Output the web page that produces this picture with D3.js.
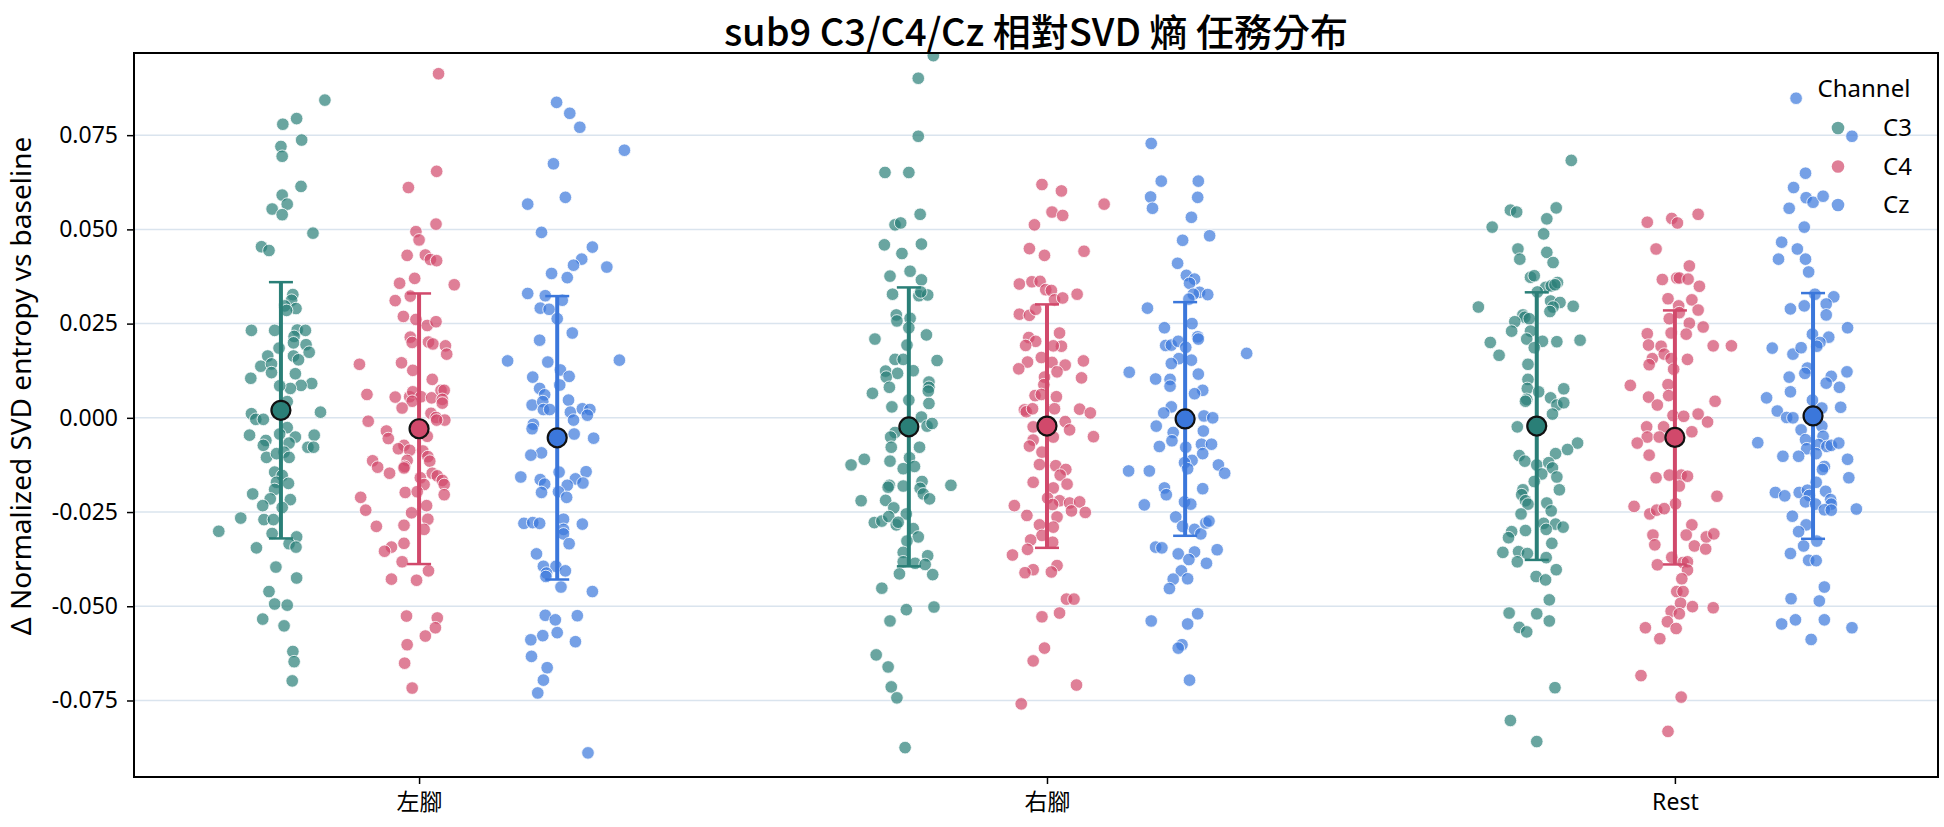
<!DOCTYPE html>
<html>
<head>
<meta charset="utf-8">
<script src="https://cdn.jsdelivr.net/npm/d3@7"></script>
<style>
  html, body { margin: 0; padding: 0; background: #fff; }
  svg { display: block; font-family: 'Noto Sans', 'Noto Sans CJK TC', sans-serif; }
</style>
</head>
<body>
<svg id="chart" width="1944" height="827"></svg>
<script>
const categories = ['左腳', '右腳', 'Rest']
const channels = ['C3', 'C4', 'Cz']
const channelColors = ['#2a7f77', '#d1496b', '#3b77db']
const yTicks = [-0.075, -0.05, -0.025, 0, 0.025, 0.05, 0.075]

// 均值与标准差 (按 类别 x 通道)
const groupMeans = [[0.0020, -0.0029, -0.0053], [-0.0024, -0.0022, -0.0003], [-0.0022, -0.0052, 0.0005]]
const groupSD = [[0.0340, 0.0359, 0.0376], [0.0370, 0.0323, 0.0310], [0.0355, 0.0337, 0.0326]]

// 每个点: [抖动(类别单位), 数值]
const leftC3 = [[0.070,0.0843],[0.003,0.0779],[0.025,0.0794],[0.033,0.0737],[0.0,0.0720],[0.002,0.0694],[0.032,0.0614],[0.002,0.0591],[0.010,0.0567],[-0.014,0.0554],[0.002,0.0539],[0.051,0.0490],[-0.031,0.0454],[-0.019,0.0444],[0.019,0.0327],[0.017,0.0312],[0.024,0.0290],[0.006,0.0297],[0.009,0.0285],[-0.047,0.0232],[-0.010,0.0232],[0.026,0.0233],[0.039,0.0232],[0.021,0.0216],[0.020,0.0199],[0.040,0.0194],[-0.003,0.0185],[0.045,0.0174],[-0.021,0.0164],[0.020,0.0164],[0.028,0.0154],[-0.032,0.0137],[-0.015,0.0143],[-0.015,0.0120],[0.023,0.0117],[-0.048,0.0105],[0.049,0.0091],[0.032,0.0086],[0.015,0.0078],[-0.002,0.0085],[-0.047,0.0011],[-0.040,-0.0004],[-0.028,-0.0004],[0.063,0.0015],[0.010,0.0043],[-0.050,-0.0046],[0.010,-0.0026],[-0.002,-0.0043],[0.023,-0.0051],[0.053,-0.0046],[-0.024,-0.0060],[-0.028,-0.0073],[0.043,-0.0078],[0.052,-0.0078],[0.013,-0.0067],[0.005,-0.0091],[-0.023,-0.0105],[-0.007,-0.0095],[0.013,-0.0105],[-0.010,-0.0144],[0.002,-0.0153],[-0.007,-0.0171],[0.012,-0.0174],[-0.010,-0.0190],[-0.045,-0.0202],[-0.017,-0.0215],[0.015,-0.0217],[-0.029,-0.0233],[0.002,-0.0238],[-0.064,-0.0266],[-0.027,-0.0270],[-0.012,-0.0270],[-0.099,-0.0301],[-0.014,-0.0307],[0.025,-0.0316],[-0.039,-0.0345],[0.013,-0.0334],[0.024,-0.0343],[-0.008,-0.0396],[0.025,-0.0425],[-0.019,-0.0461],[-0.010,-0.0494],[0.010,-0.0497],[-0.029,-0.0534],[0.005,-0.0552],[0.019,-0.0620],[0.021,-0.0647],[0.018,-0.0698]]

const leftC4 = [[0.031,0.0913],[0.028,0.0654],[-0.017,0.0611],[0.027,0.0514],[-0.005,0.0494],[0.0,0.0472],[-0.019,0.0431],[0.010,0.0432],[0.018,0.0420],[0.028,0.0417],[-0.031,0.0357],[-0.007,0.0370],[0.056,0.0353],[-0.038,0.0311],[-0.014,0.0323],[-0.025,0.0269],[-0.005,0.0261],[0.013,0.0245],[0.027,0.0255],[-0.014,0.0214],[-0.011,0.0200],[0.015,0.0201],[0.022,0.0196],[0.042,0.0191],[0.044,0.0169],[-0.095,0.0142],[-0.028,0.0146],[-0.010,0.0126],[0.021,0.0102],[-0.083,0.0062],[-0.038,0.0055],[-0.015,0.0056],[-0.010,0.0069],[0.003,0.0056],[0.020,0.0053],[0.035,0.0073],[0.040,0.0073],[0.037,0.0049],[0.037,0.0039],[-0.011,0.0044],[-0.027,0.0026],[0.019,0.0012],[-0.081,-0.0009],[0.027,0.0001],[0.041,-0.0006],[0.028,-0.0006],[-0.052,-0.0035],[-0.049,-0.0055],[0.013,-0.0049],[-0.024,-0.0073],[-0.033,-0.0082],[-0.015,-0.0086],[0.006,-0.0088],[0.014,-0.0103],[0.017,-0.0115],[-0.074,-0.0114],[-0.066,-0.0131],[-0.019,-0.0113],[-0.023,-0.0129],[-0.024,-0.0133],[-0.047,-0.0147],[0.021,-0.0147],[0.029,-0.0154],[0.037,-0.0166],[0.040,-0.0177],[0.002,-0.0159],[0.008,-0.0177],[-0.022,-0.0198],[-0.003,-0.0196],[0.040,-0.0204],[-0.093,-0.0211],[-0.085,-0.0245],[0.012,-0.0233],[-0.012,-0.0252],[0.014,-0.0269],[-0.068,-0.0288],[-0.024,-0.0285],[0.008,-0.0296],[-0.024,-0.0333],[-0.044,-0.0343],[-0.055,-0.0354],[-0.027,-0.0382],[0.015,-0.0406],[-0.044,-0.0428],[-0.004,-0.0431],[-0.020,-0.0526],[0.029,-0.0531],[0.026,-0.0557],[0.010,-0.0579],[-0.019,-0.0602],[-0.023,-0.0651],[-0.011,-0.0717]]

const leftCz = [[-0.001,0.0837],[0.020,0.0808],[0.036,0.0771],[0.107,0.0710],[-0.006,0.0674],[0.013,0.0585],[-0.047,0.0567],[-0.025,0.0492],[0.056,0.0453],[0.039,0.0421],[0.026,0.0405],[0.079,0.0400],[-0.009,0.0383],[0.016,0.0372],[-0.047,0.0330],[-0.019,0.0324],[0.008,0.0312],[-0.027,0.0291],[-0.013,0.0288],[0.0,0.0263],[0.024,0.0225],[-0.028,0.0206],[-0.079,0.0151],[-0.015,0.0148],[0.099,0.0153],[0.005,0.0127],[0.019,0.0110],[-0.039,0.0108],[0.004,0.0087],[-0.028,0.0078],[-0.020,0.0061],[0.018,0.0047],[-0.040,0.0034],[-0.023,0.0043],[-0.022,0.0022],[-0.012,0.0022],[0.021,0.0015],[0.040,0.0024],[0.052,0.0022],[0.048,0.0007],[0.026,-0.0006],[-0.038,-0.0017],[-0.040,-0.0029],[0.027,-0.0043],[0.058,-0.0054],[-0.025,-0.0093],[-0.042,-0.0099],[-0.058,-0.0157],[0.046,-0.0143],[0.003,-0.0144],[-0.027,-0.0164],[-0.020,-0.0176],[0.029,-0.0162],[0.041,-0.0173],[0.016,-0.0179],[-0.025,-0.0198],[0.002,-0.0196],[0.015,-0.0211],[-0.053,-0.0280],[-0.039,-0.0278],[-0.028,-0.0280],[0.010,-0.0269],[0.010,-0.0296],[0.010,-0.0308],[0.040,-0.0282],[0.019,-0.0334],[-0.033,-0.0361],[-0.022,-0.0394],[-0.002,-0.0394],[-0.017,-0.0412],[-0.018,-0.0421],[0.013,-0.0406],[0.006,-0.0449],[0.056,-0.0461],[-0.019,-0.0524],[-0.003,-0.0536],[0.032,-0.0525],[-0.023,-0.0578],[0.0,-0.0570],[-0.042,-0.0589],[0.029,-0.0594],[-0.041,-0.0633],[-0.016,-0.0663],[-0.022,-0.0696],[-0.031,-0.0730],[0.049,-0.0889]]

const rightC3 = [[0.039,0.0961],[0.015,0.0901],[0.015,0.0747],[-0.038,0.0651],[0.0,0.0651],[0.018,0.0540],[-0.022,0.0512],[-0.013,0.0517],[-0.039,0.0459],[0.020,0.0461],[-0.011,0.0436],[0.002,0.0389],[-0.030,0.0376],[0.020,0.0366],[-0.026,0.0328],[0.016,0.0324],[0.030,0.0326],[0.019,0.0334],[-0.020,0.0273],[-0.019,0.0257],[0.002,0.0264],[0.0,0.0239],[-0.054,0.0209],[0.028,0.0220],[-0.003,0.0193],[-0.022,0.0155],[-0.009,0.0155],[0.045,0.0152],[-0.037,0.0124],[-0.018,0.0118],[0.007,0.0125],[-0.036,0.0108],[0.032,0.0095],[0.032,0.0081],[0.031,0.0071],[-0.031,0.0081],[-0.058,0.0065],[0.0,0.0047],[0.032,0.0038],[-0.027,0.0029],[0.020,0.0002],[0.029,-0.0022],[0.037,-0.0015],[-0.022,-0.0039],[-0.029,-0.0051],[-0.028,-0.0078],[0.017,-0.0078],[-0.092,-0.0125],[-0.071,-0.0110],[-0.030,-0.0115],[0.001,-0.0106],[0.009,-0.0129],[-0.009,-0.0135],[-0.031,-0.0179],[-0.033,-0.0184],[-0.009,-0.0181],[0.021,-0.0169],[0.018,-0.0187],[0.023,-0.0202],[0.033,-0.0215],[0.067,-0.0179],[-0.076,-0.0220],[-0.037,-0.0219],[-0.024,-0.0239],[-0.004,-0.0255],[-0.055,-0.0278],[-0.043,-0.0274],[-0.032,-0.0262],[-0.020,-0.0284],[-0.017,-0.0277],[0.007,-0.0294],[0.015,-0.0316],[-0.003,-0.0327],[-0.009,-0.0357],[-0.009,-0.0382],[0.010,-0.0386],[0.030,-0.0366],[0.026,-0.0389],[0.038,-0.0416],[-0.015,-0.0414],[-0.043,-0.0452],[-0.004,-0.0509],[0.040,-0.0502],[-0.030,-0.0539],[-0.052,-0.0629],[-0.033,-0.0661],[-0.028,-0.0714],[-0.019,-0.0743],[-0.006,-0.0875]]

const rightC4 = [[-0.008,0.0619],[0.023,0.0602],[0.091,0.0567],[0.008,0.0546],[0.025,0.0537],[-0.020,0.0512],[-0.028,0.0449],[-0.004,0.0431],[0.059,0.0442],[-0.044,0.0355],[-0.024,0.0361],[-0.011,0.0362],[-0.002,0.0340],[0.007,0.0338],[0.012,0.0313],[0.025,0.0318],[0.048,0.0328],[-0.044,0.0275],[-0.028,0.0272],[-0.018,0.0288],[-0.029,0.0213],[-0.018,0.0203],[-0.034,0.0192],[0.020,0.0225],[0.023,0.0190],[0.010,0.0191],[-0.031,0.0148],[-0.045,0.0130],[-0.009,0.0160],[0.008,0.0147],[0.029,0.0140],[0.016,0.0122],[0.058,0.0151],[0.055,0.0106],[-0.004,0.0108],[-0.005,0.0088],[-0.019,0.0059],[-0.009,0.0062],[0.015,0.0056],[-0.036,0.0021],[-0.033,0.0016],[-0.023,0.0024],[0.012,0.0024],[0.052,0.0023],[0.069,0.0013],[0.029,-0.0010],[-0.022,-0.0024],[0.036,-0.0032],[-0.022,-0.0059],[-0.028,-0.0075],[0.010,-0.0051],[0.074,-0.0050],[-0.008,-0.0091],[-0.012,-0.0124],[0.014,-0.0127],[0.030,-0.0137],[0.021,-0.0152],[0.032,-0.0176],[-0.022,-0.0171],[0.010,-0.0186],[0.001,-0.0213],[0.020,-0.0220],[0.009,-0.0230],[0.036,-0.0226],[0.052,-0.0223],[0.039,-0.0247],[0.061,-0.0251],[-0.052,-0.0233],[-0.032,-0.0259],[0.016,-0.0263],[-0.012,-0.0284],[0.010,-0.0290],[-0.008,-0.0312],[-0.026,-0.0324],[0.009,-0.0330],[-0.031,-0.0349],[-0.055,-0.0364],[-0.022,-0.0403],[-0.035,-0.0411],[0.016,-0.0392],[0.007,-0.0409],[0.031,-0.0481],[0.043,-0.0481],[-0.008,-0.0528],[0.020,-0.0518],[-0.004,-0.0611],[-0.022,-0.0645],[0.047,-0.0709],[-0.041,-0.0759]]

const rightCz = [[-0.054,0.0728],[-0.038,0.0628],[0.021,0.0628],[-0.055,0.0586],[0.020,0.0585],[-0.052,0.0556],[0.010,0.0532],[-0.004,0.0471],[0.039,0.0483],[-0.012,0.0410],[0.002,0.0378],[0.015,0.0368],[0.007,0.0357],[0.023,0.0333],[0.036,0.0327],[0.013,0.0328],[0.006,0.0315],[-0.060,0.0291],[-0.033,0.0239],[0.011,0.0250],[0.020,0.0215],[0.021,0.0209],[-0.031,0.0192],[-0.022,0.0193],[-0.011,0.0203],[0.001,0.0187],[0.098,0.0171],[-0.010,0.0157],[0.010,0.0153],[-0.022,0.0144],[-0.089,0.0121],[-0.047,0.0103],[0.021,0.0116],[-0.024,0.0102],[-0.024,0.0084],[0.028,0.0073],[0.015,0.0064],[-0.022,0.0029],[-0.034,0.0013],[0.030,0.0005],[0.044,0.0],[-0.046,-0.0022],[0.029,-0.0035],[-0.019,-0.0039],[-0.021,-0.0061],[-0.041,-0.0076],[0.001,-0.0078],[0.026,-0.0070],[0.042,-0.0070],[0.028,-0.0095],[0.011,-0.0113],[-0.001,-0.0119],[0.004,-0.0135],[0.053,-0.0125],[0.063,-0.0147],[-0.090,-0.0141],[-0.057,-0.0141],[-0.033,-0.0186],[-0.030,-0.0204],[0.028,-0.0188],[-0.065,-0.0231],[-0.001,-0.0223],[0.009,-0.0229],[-0.015,-0.0263],[-0.004,-0.0288],[0.015,-0.0296],[0.025,-0.0308],[0.033,-0.0279],[0.038,-0.0274],[-0.047,-0.0343],[-0.037,-0.0345],[-0.011,-0.0361],[0.015,-0.0356],[0.006,-0.0376],[0.051,-0.0350],[0.034,-0.0386],[-0.006,-0.0406],[-0.019,-0.0428],[0.004,-0.0427],[-0.025,-0.0453],[-0.054,-0.0539],[0.004,-0.0547],[0.020,-0.0520],[-0.005,-0.0602],[-0.011,-0.0611],[0.007,-0.0696]]

const restC3 = [[0.055,0.0683],[-0.042,0.0551],[-0.032,0.0546],[0.031,0.0557],[0.016,0.0528],[-0.071,0.0506],[0.011,0.0488],[-0.030,0.0448],[-0.027,0.0421],[0.016,0.0439],[0.026,0.0412],[-0.010,0.0373],[-0.004,0.0377],[0.014,0.0346],[0.023,0.0350],[0.033,0.0359],[0.029,0.0353],[0.001,0.0334],[0.022,0.0310],[0.037,0.0306],[0.058,0.0296],[-0.093,0.0294],[0.026,0.0294],[0.021,0.0282],[-0.022,0.0273],[-0.019,0.0267],[-0.035,0.0255],[-0.012,0.0263],[-0.040,0.0230],[-0.010,0.0230],[-0.074,0.0200],[-0.016,0.0209],[0.009,0.0203],[0.032,0.0202],[0.069,0.0206],[-0.004,0.0186],[-0.060,0.0166],[-0.014,0.0142],[-0.014,0.0102],[-0.015,0.0078],[0.003,0.0069],[0.043,0.0077],[-0.016,0.0049],[-0.018,0.0044],[0.022,0.0053],[0.032,0.0034],[0.043,0.0040],[0.025,0.0010],[-0.031,-0.0024],[0.065,-0.0067],[0.049,-0.0084],[0.030,-0.0095],[-0.028,-0.0100],[-0.019,-0.0115],[0.0,-0.0125],[0.019,-0.0119],[0.025,-0.0133],[0.008,-0.0149],[0.032,-0.0157],[-0.004,-0.0169],[0.036,-0.0191],[-0.022,-0.0191],[-0.024,-0.0204],[-0.018,-0.0220],[-0.014,-0.0229],[0.016,-0.0226],[0.023,-0.0247],[-0.025,-0.0255],[0.011,-0.0280],[0.030,-0.0282],[0.042,-0.0290],[0.015,-0.0296],[-0.018,-0.0299],[-0.040,-0.0302],[-0.045,-0.0318],[0.024,-0.0333],[-0.054,-0.0357],[-0.029,-0.0355],[-0.015,-0.0360],[-0.031,-0.0382],[0.015,-0.0371],[0.031,-0.0403],[-0.001,-0.0421],[0.014,-0.0430],[0.020,-0.0483],[-0.044,-0.0518],[0.0,-0.0520],[0.020,-0.0539],[-0.028,-0.0556],[-0.016,-0.0568],[0.029,-0.0716],[-0.042,-0.0803],[0.0,-0.0859]]

const restC4 = [[-0.044,0.0519],[-0.005,0.0529],[0.004,0.0517],[0.037,0.0540],[-0.030,0.0448],[0.023,0.0403],[-0.020,0.0367],[0.003,0.0371],[0.007,0.0371],[0.021,0.0368],[0.039,0.0349],[-0.011,0.0316],[0.027,0.0313],[0.006,0.0297],[0.037,0.0286],[-0.009,0.0263],[0.007,0.0279],[0.023,0.0251],[0.045,0.0241],[-0.044,0.0223],[-0.006,0.0225],[0.018,0.0222],[-0.042,0.0193],[-0.022,0.0190],[0.061,0.0191],[0.090,0.0191],[-0.017,0.0169],[-0.036,0.0157],[-0.006,0.0157],[0.020,0.0155],[-0.041,0.0141],[-0.002,0.0129],[-0.071,0.0086],[-0.011,0.0088],[-0.010,0.0059],[-0.042,0.0055],[-0.028,0.0034],[0.064,0.0044],[-0.003,0.0006],[0.014,0.0004],[0.037,0.0010],[0.052,-0.0011],[-0.045,-0.0024],[-0.018,-0.0024],[0.027,-0.0037],[-0.044,-0.0051],[-0.025,-0.0051],[-0.060,-0.0067],[-0.041,-0.0099],[-0.030,-0.0159],[-0.009,-0.0152],[0.010,-0.0152],[0.020,-0.0155],[0.007,-0.0181],[0.067,-0.0208],[0.001,-0.0228],[-0.065,-0.0235],[-0.040,-0.0255],[-0.029,-0.0245],[-0.017,-0.0241],[0.027,-0.0284],[0.018,-0.0311],[-0.035,-0.0311],[-0.032,-0.0337],[0.031,-0.0340],[0.049,-0.0348],[0.050,-0.0316],[0.062,-0.0308],[-0.028,-0.0390],[-0.005,-0.0370],[0.013,-0.0384],[0.020,-0.0382],[0.020,-0.0404],[0.011,-0.0427],[0.003,-0.0461],[0.013,-0.0461],[0.009,-0.0492],[0.028,-0.0501],[0.061,-0.0504],[-0.006,-0.0513],[0.007,-0.0520],[-0.012,-0.0541],[-0.047,-0.0557],[0.002,-0.0559],[-0.024,-0.0586],[-0.054,-0.0684],[0.010,-0.0741],[-0.011,-0.0832]]

const restCz = [[-0.027,0.0848],[0.062,0.0747],[-0.012,0.0649],[-0.031,0.0611],[-0.011,0.0584],[0.0,0.0572],[0.016,0.0588],[-0.038,0.0556],[-0.014,0.0506],[-0.050,0.0466],[-0.025,0.0448],[-0.055,0.0421],[-0.012,0.0421],[-0.007,0.0387],[0.003,0.0328],[0.033,0.0321],[0.021,0.0302],[0.021,0.0273],[-0.036,0.0289],[-0.014,0.0297],[0.055,0.0239],[-0.001,0.0222],[0.025,0.0214],[0.011,0.0200],[-0.065,0.0185],[-0.032,0.0169],[-0.019,0.0186],[0.006,0.0190],[-0.009,0.0132],[-0.013,0.0118],[-0.038,0.0108],[0.029,0.0110],[0.054,0.0122],[0.021,0.0092],[0.042,0.0081],[-0.036,0.0069],[-0.074,0.0053],[-0.001,0.0047],[0.014,0.0026],[0.044,0.0028],[-0.057,0.0018],[-0.042,0.0001],[-0.032,0.0],[0.014,-0.0022],[-0.019,-0.0032],[-0.088,-0.0066],[-0.012,-0.0058],[0.016,-0.0049],[0.009,-0.0071],[-0.010,-0.0082],[0.022,-0.0076],[0.029,-0.0073],[0.041,-0.0067],[-0.048,-0.0102],[-0.023,-0.0102],[0.005,-0.0095],[0.055,-0.0110],[0.018,-0.0129],[0.015,-0.0137],[0.057,-0.0159],[0.005,-0.0171],[-0.060,-0.0198],[-0.045,-0.0207],[-0.022,-0.0198],[-0.009,-0.0192],[-0.006,-0.0206],[0.020,-0.0195],[-0.012,-0.0223],[0.004,-0.0229],[0.028,-0.0217],[0.029,-0.0229],[0.018,-0.0244],[0.029,-0.0245],[0.069,-0.0242],[-0.033,-0.0261],[-0.011,-0.0284],[-0.023,-0.0302],[0.006,-0.0327],[-0.015,-0.0340],[-0.036,-0.0360],[-0.007,-0.0378],[0.005,-0.0379],[0.018,-0.0449],[-0.035,-0.0480],[0.010,-0.0486],[-0.050,-0.0547],[-0.028,-0.0536],[0.018,-0.0536],[0.062,-0.0557],[-0.003,-0.0588]]

const groups = [
  [leftC3, leftC4, leftCz],
  [rightC3, rightC4, rightCz],
  [restC3, restC4, restCz]
]
const hueOffset = [-0.22, 0, 0.22]

const svg = d3.select('#chart')
const plotL = 134, plotR = 1938, plotT = 53, plotB = 777

const x = d3.scaleLinear().domain([-0.454, 2.419]).range([plotL, plotR])
const y = d3.scaleLinear().domain([-0.0953, 0.0968]).range([plotB, plotT])

// 网格
svg.append('g').selectAll('line')
  .data(yTicks)
  .enter()
  .append('line')
  .attr('x1', plotL).attr('x2', plotR)
  .attr('y1', d => y(d)).attr('y2', d => y(d))
  .style('stroke', '#dae4ee')
  .style('stroke-width', 1.5)

const plot = svg.append('g')
plot.append('clipPath').attr('id', 'clip')
  .append('rect')
  .attr('x', plotL).attr('y', plotT)
  .attr('width', plotR - plotL).attr('height', plotB - plotT)

const pts = plot.append('g').attr('clip-path', 'url(#clip)')

groups.forEach((chs, ci) => {
  chs.forEach((arr, hi) => {
    pts.append('g').selectAll('circle')
      .data(arr)
      .enter()
      .append('circle')
      .attr('cx', d => x(ci + hueOffset[hi] + d[0]))
      .attr('cy', d => y(d[1]))
      .attr('r', 6.3)
      .style('fill', channelColors[hi])
      .style('fill-opacity', 0.7)
      .style('stroke', '#fff')
      .style('stroke-width', 0.8)
  })
})

// 均值 ± 标准差
groups.forEach((chs, ci) => {
  chs.forEach((arr, hi) => {
    const m = groupMeans[ci][hi]
    const sd = groupSD[ci][hi]
    const cx = x(ci + hueOffset[hi])
    const g = plot.append('g').style('stroke', channelColors[hi])
    g.append('line')
      .attr('x1', cx).attr('x2', cx)
      .attr('y1', y(m + sd)).attr('y2', y(m - sd))
      .style('stroke-width', 4)
    ;[m + sd, m - sd].forEach(v => {
      g.append('line')
        .attr('x1', cx - 12).attr('x2', cx + 12)
        .attr('y1', y(v)).attr('y2', y(v))
        .style('stroke-width', 2.5)
    })
    g.append('circle')
      .attr('cx', cx).attr('cy', y(m))
      .attr('r', 9.5)
      .style('fill', channelColors[hi])
      .style('stroke', '#111')
      .style('stroke-width', 2.2)
  })
})

// 坐标轴
const yaxis = d3.axisLeft(y).tickValues(yTicks).tickFormat(d => d.toFixed(3)).tickSize(7).tickPadding(9)
const yaxisg = svg.append('g')
  .attr('transform', `translate(${plotL}, 0)`)
  .call(yaxis)
yaxisg.select('.domain').remove()
yaxisg.selectAll('text').style('font-size', '23px').style('fill', '#000')
  .style('font-family', "'Noto Sans', sans-serif")
yaxisg.selectAll('line').style('stroke', '#000').style('stroke-width', 1.5)

const xaxis = d3.axisBottom(x).tickValues([0, 1, 2]).tickFormat(i => categories[i]).tickSize(7).tickPadding(10)
const xaxisg = svg.append('g')
  .attr('transform', `translate(0, ${plotB})`)
  .call(xaxis)
xaxisg.select('.domain').remove()
xaxisg.selectAll('text').style('font-size', '23px').style('fill', '#000')
  .style('font-family', "'Noto Sans', 'Noto Sans CJK TC', sans-serif")
xaxisg.selectAll('line').style('stroke', '#000').style('stroke-width', 1.5)

svg.append('rect')
  .attr('x', plotL).attr('y', plotT)
  .attr('width', plotR - plotL).attr('height', plotB - plotT)
  .style('fill', 'none')
  .style('stroke', '#000')
  .style('stroke-width', 2)

// 标题
svg.append('text')
  .attr('x', (plotL + plotR) / 2)
  .attr('y', 46)
  .attr('text-anchor', 'middle')
  .style('font-family', "'Noto Sans CJK TC', sans-serif")
  .style('font-size', '38px')
  .style('font-weight', 500)
  .text('sub9 C3/C4/Cz 相對SVD 熵 任務分布')

svg.append('text')
  .attr('transform', 'translate(21, 386) rotate(-90)')
  .attr('text-anchor', 'middle')
  .attr('dy', '0.35em')
  .style('font-size', '28px')
  .text('Δ Normalized SVD entropy vs baseline')

// 图例
const lg = svg.append('g')
lg.append('text')
  .attr('x', 1864).attr('y', 89)
  .attr('text-anchor', 'middle')
  .attr('dy', '0.35em')
  .style('font-size', '24px')
  .text('Channel')
channels.forEach((c, i) => {
  const yy = 128 + i * 38.5
  lg.append('circle')
    .attr('cx', 1838).attr('cy', yy).attr('r', 6.3)
    .style('fill', channelColors[i])
    .style('fill-opacity', 0.7)
  lg.append('text')
    .attr('x', 1883).attr('y', yy)
    .attr('dy', '0.35em')
    .style('font-size', '24px')
    .text(c)
})
</script>
</body>
</html>
